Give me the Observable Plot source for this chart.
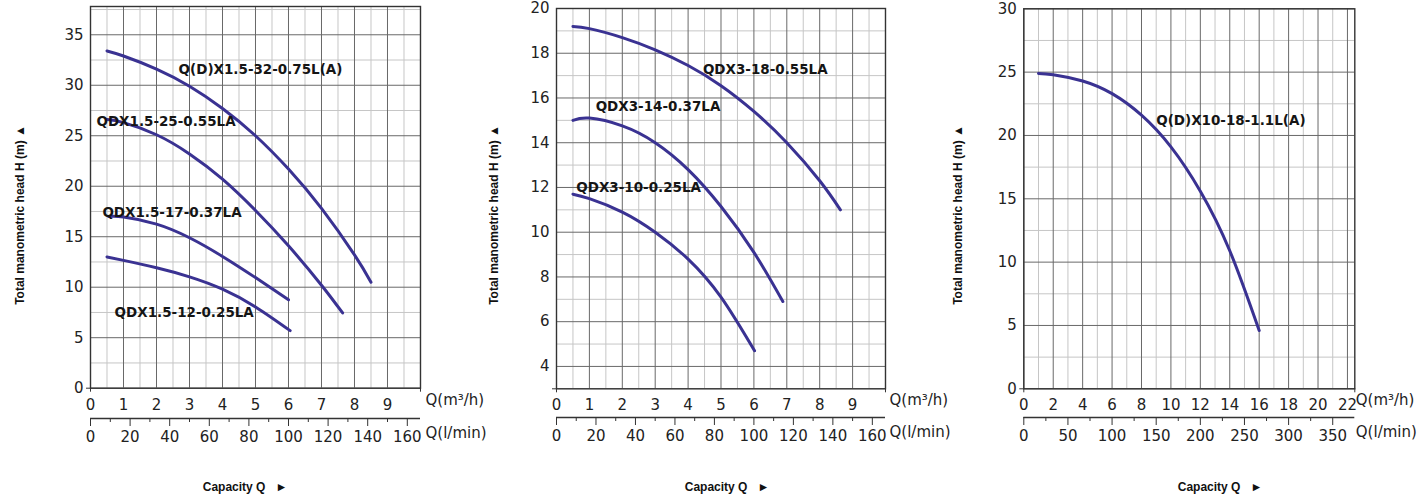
<!DOCTYPE html>
<html><head><meta charset="utf-8">
<script src="https://cdn.jsdelivr.net/npm/d3@7"></script>
<script src="https://cdn.jsdelivr.net/npm/@observablehq/plot@0.6"></script>
<style>
html,body{margin:0;padding:0;background:#fff;}
#root{position:relative;width:1423px;height:503px;overflow:hidden;background:#fff;}
.ttl{position:absolute;font-family:"Liberation Sans",Arial,sans-serif;font-weight:bold;font-size:12px;color:#111;white-space:nowrap;}
.ttl.y{transform:translate(-50%,-50%) rotate(-90deg);}
.ttl.x{transform:translate(-50%,-50%);}
</style></head><body>
<div id="root"></div>
<script>
// ---------------- DATA ----------------
// Panel 1 : QDX1.5 series (Q in m³/h, H in m)
const p1Names = ["Q(D)X1.5-32-0.75L(A)", "QDX1.5-25-0.55LA", "QDX1.5-17-0.37LA", "QDX1.5-12-0.25LA"];
const p1Q = [
  [0.5, 1, 2, 3, 4, 5, 6, 7, 8, 8.5],
  [0.5, 1, 2, 3, 4, 5, 6, 7, 7.64],
  [0.55, 1, 2, 3, 4, 5, 6],
  [0.5, 1, 2, 3, 4, 5, 6.05]
];
const p1H = [
  [33.4, 32.9, 31.6, 29.9, 27.7, 25.0, 21.7, 17.8, 13.2, 10.5],
  [26.6, 26.3, 25.1, 23.2, 20.7, 17.6, 14.1, 10.2, 7.45],
  [17.0, 16.95, 16.25, 14.9, 13.05, 10.95, 8.75],
  [13.0, 12.66, 11.93, 11.03, 9.81, 8.05, 5.7]
];
const p1LabelQ = [2.67, 0.18, 0.36, 0.73];
const p1LabelH = [31.5, 26.4, 17.4, 7.5];
const p1XTicks = [0, 1, 2, 3, 4, 5, 6, 7, 8, 9];
const p1YTicks = [0, 5, 10, 15, 20, 25, 30, 35];
const p1LminTicks = [0, 20, 40, 60, 80, 100, 120, 140, 160];
const p1LminMinor = [10, 30, 50, 70, 90, 110, 130, 150];

// Panel 2 : QDX3 series
const p2Names = ["QDX3-18-0.55LA", "QDX3-14-0.37LA", "QDX3-10-0.25LA"];
const p2Q = [
  [0.5, 1, 2, 3, 4, 5, 6, 7, 8, 8.63],
  [0.5, 1, 2, 3, 4, 5, 6, 6.88],
  [0.5, 1, 2, 3, 4, 5, 6.02]
];
const p2H = [
  [19.2, 19.1, 18.7, 18.15, 17.45, 16.55, 15.4, 14.0, 12.3, 11.0],
  [15.0, 15.1, 14.75, 14.0, 12.8, 11.15, 9.1, 6.9],
  [11.7, 11.5, 10.9, 10.0, 8.8, 7.1, 4.7]
];
const p2LabelQ = [4.45, 1.19, 0.6];
const p2LabelH = [17.26, 15.59, 12.01];
const p2XTicks = [0, 1, 2, 3, 4, 5, 6, 7, 8, 9];
const p2YTicks = [4, 6, 8, 10, 12, 14, 16, 18, 20];
const p2LminTicks = [0, 20, 40, 60, 80, 100, 120, 140, 160];
const p2LminMinor = [10, 30, 50, 70, 90, 110, 130, 150];

// Panel 3 : Q(D)X10
const p3Names = ["Q(D)X10-18-1.1L(A)"];
const p3Q = [[1, 2, 4, 6, 8, 10, 12, 14, 16]];
const p3H = [[24.9, 24.8, 24.3, 23.3, 21.6, 19.1, 15.6, 10.9, 4.6]];
const p3LabelQ = [9.0];
const p3LabelH = [21.2];
const p3XTicks = [0, 2, 4, 6, 8, 10, 12, 14, 16, 18, 20, 22];
const p3YTicks = [0, 5, 10, 15, 20, 25, 30];
const p3LminTicks = [0, 50, 100, 150, 200, 250, 300, 350];
const p3LminMinor = [25, 75, 125, 175, 225, 275, 325];

const yTitle = "Total manometric head H (m) \u25B2";
const xTitle = "Capacity Q \u00A0\u00A0\u25BA";
const unitM3 = "Q(m\u00B3/h)";
const unitL = "Q(l/min)";

// ---------------- LAYOUT ----------------
const CURVE = "#3a3292";
const panels = [
  {names: p1Names, Q: p1Q, H: p1H, lq: p1LabelQ, lh: p1LabelH, xt: p1XTicks, yt: p1YTicks, lt: p1LminTicks, lm: p1LminMinor,
   xDomain: [0, 10], yDomain: [0, 37.8], xMinorStep: 0.5, xMajorStep: 1, yMinorStep: 2.5, yMajorStep: 5,
   svgL: 0, svgW: 480, fL: 90, fR: 420, fT: 6, fB: 387.7, axisY: 417.7, unitDx: 5,
   yTitleX: 20, xTitleX: 245},
  {names: p2Names, Q: p2Q, H: p2H, lq: p2LabelQ, lh: p2LabelH, xt: p2XTicks, yt: p2YTicks, lt: p2LminTicks, lm: p2LminMinor,
   xDomain: [0, 10], yDomain: [3, 20], xMinorStep: 0.5, xMajorStep: 1, yMinorStep: 1, yMajorStep: 2,
   svgL: 480, svgW: 480, fL: 556, fR: 885, fT: 8, fB: 388.3, axisY: 416.7, unitDx: 4,
   yTitleX: 494, xTitleX: 727},
  {names: p3Names, Q: p3Q, H: p3H, lq: p3LabelQ, lh: p3LabelH, xt: p3XTicks, yt: p3YTicks, lt: p3LminTicks, lm: p3LminMinor,
   xDomain: [0, 22.5], yDomain: [0, 30], xMinorStep: 1, xMajorStep: 2, yMinorStep: 2.5, yMajorStep: 5,
   svgL: 960, svgW: 463, fL: 1023.3, fR: 1354.3, fT: 8.3, fB: 388.3, axisY: 417.2, unitDx: 1,
   yTitleX: 958, xTitleX: 1220}
];

const root = document.getElementById("root");
const rng = (a, b, s) => { const out = []; for (let v = a; v <= b + 1e-9; v += s) out.push(+v.toFixed(4)); return out; };
const isMult = (v, s) => Math.abs(v / s - Math.round(v / s)) < 1e-6;

for (const p of panels) {
  const rows = [];
  p.names.forEach((n, i) => p.Q[i].forEach((q, j) => rows.push({name: n, q, h: p.H[i][j]})));
  const labels = p.names.map((n, i) => ({name: n, q: p.lq[i], h: p.lh[i]}));
  const xAll = rng(p.xDomain[0], p.xDomain[1], p.xMinorStep);
  const yAll = rng(p.yDomain[0], p.yDomain[1], p.yMinorStep);
  const xMajor = xAll.filter(v => isMult(v, p.xMajorStep));
  const xMinor = xAll.filter(v => !isMult(v, p.xMajorStep));
  const yMajor = yAll.filter(v => isMult(v, p.yMajorStep));
  const yMinor = yAll.filter(v => !isMult(v, p.yMajorStep));

  const mb = 30;
  const main = Plot.plot({
    width: p.svgW,
    height: p.fB + mb,
    marginLeft: p.fL - p.svgL,
    marginRight: p.svgL + p.svgW - p.fR,
    marginTop: p.fT,
    marginBottom: mb,
    style: {fontFamily: "DejaVu Sans, sans-serif", fontSize: "15px", background: "none", overflow: "visible", color: "#222"},
    x: {domain: p.xDomain, label: null},
    y: {domain: p.yDomain, label: null},
    marks: [
      Plot.ruleX(xMinor, {stroke: "#c6c6c6", strokeWidth: 1}),
      Plot.ruleY(yMinor, {stroke: "#c6c6c6", strokeWidth: 1}),
      Plot.ruleX(xMajor, {stroke: "#686868", strokeWidth: 1}),
      Plot.ruleY(yMajor, {stroke: "#686868", strokeWidth: 1}),
      Plot.frame({stroke: "#333", strokeWidth: 1.4}),
      Plot.axisX(p.xt, {tickSize: 0, tickPadding: 11, fill: "#222"}),
      Plot.axisY(p.yt, {tickSize: 0, tickPadding: 7, fill: "#222"}),
      Plot.axisX([p.xDomain[0], p.xDomain[1]], {tickSize: 4, stroke: "#333", tickFormat: () => ""}),
      Plot.axisY([p.yDomain[0]], {tickSize: 4, stroke: "#333", tickFormat: () => ""}),
      Plot.line(rows, {x: "q", y: "h", z: "name", stroke: CURVE, strokeWidth: 3, curve: "natural"}),
      Plot.text(labels, {x: "q", y: "h", text: "name", textAnchor: "start", fontFamily: "DejaVu Sans", fontWeight: "bold", fontSize: 13.5, fill: "#151515"}),
      Plot.text([unitM3], {frameAnchor: "bottom-right", dx: p.unitDx, dy: 16.5, textAnchor: "start", fill: "#222"})
    ]
  });
  main.style.position = "absolute";
  main.style.left = p.svgL + "px";
  main.style.top = "0px";
  root.appendChild(main);

  const lmax = p.xDomain[1] * 1000 / 60;
  const secH = 60, secMB = 40;
  const sec = Plot.plot({
    width: p.svgW,
    height: secH,
    marginLeft: p.fL - p.svgL,
    marginRight: p.svgL + p.svgW - p.fR,
    marginTop: 0,
    marginBottom: secMB,
    style: {fontFamily: "DejaVu Sans, sans-serif", fontSize: "15px", background: "none", overflow: "visible", color: "#222"},
    x: {domain: [0, lmax], label: null},
    y: {domain: [0, 1], axis: null},
    marks: [
      Plot.ruleY([0], {stroke: "#333", strokeWidth: 1.4}),
      Plot.axisX(p.lt, {tickSize: 8, tickPadding: 5, stroke: "#333", fill: "#222"}),
      Plot.axisX(p.lm, {tickSize: 4, stroke: "#333", tickFormat: () => ""}),
      Plot.text([unitL], {frameAnchor: "bottom-right", dx: p.unitDx, dy: 19.5, textAnchor: "start", fill: "#222"})
    ]
  });
  sec.style.position = "absolute";
  sec.style.left = p.svgL + "px";
  sec.style.top = (p.axisY - (secH - secMB)) + "px";
  root.appendChild(sec);

  const yt = document.createElement("div");
  yt.className = "ttl y";
  yt.textContent = yTitle;
  yt.style.left = p.yTitleX + "px";
  yt.style.top = "215px";
  root.appendChild(yt);

  const xtl = document.createElement("div");
  xtl.className = "ttl x";
  xtl.textContent = xTitle;
  xtl.style.left = p.xTitleX + "px";
  xtl.style.top = "487px";
  root.appendChild(xtl);
}
</script>
</body></html>
